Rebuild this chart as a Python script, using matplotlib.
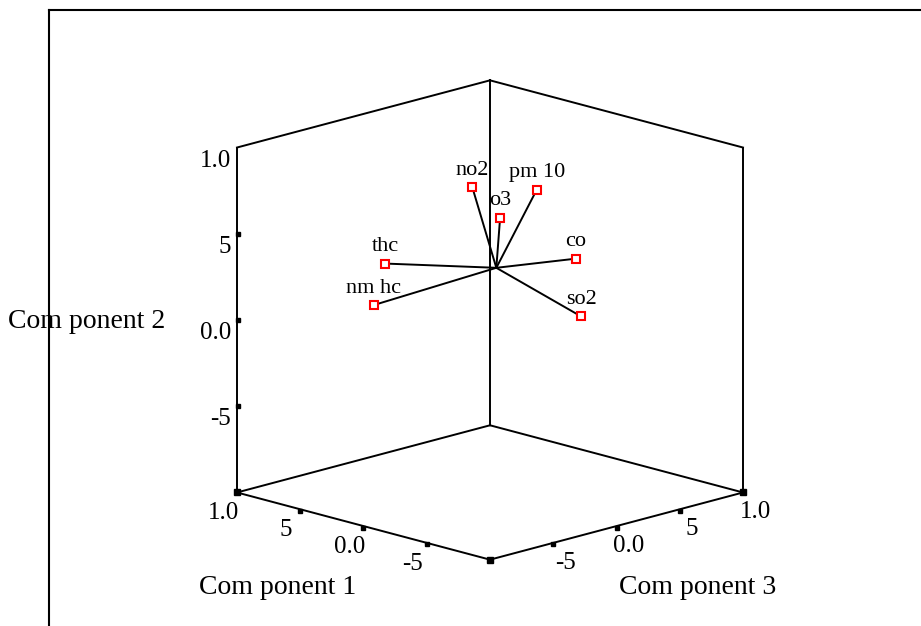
import numpy as np
import matplotlib.pyplot as plt
from matplotlib.lines import Line2D

# component loadings
variables = ["no2", "pm 10", "o3", "thc", "co", "nm hc", "so2"]
comp1 = [0.25, 0.01, 0.15, 0.87, 0.06, 0.81, -0.05]
comp2 = [0.70, 0.68, 0.52, 0.15, 0.20, -0.05, -0.10]
comp3 = [0.11, 0.38, 0.23, 0.04, 0.74, -0.11, 0.67]
spike_center = [0.11, 0.25, 0.16]

tick_values = [-1.0, -0.5, 0.0, 0.5, 1.0]
tick_text = ["", "-5", "0.0", "5", "1.0"]
comp3_text = ["", "-5", "0.0", "5", "1.0"]

axis_titles = ["Com ponent 1", "Com ponent 2", "Com ponent 3"]

AZIM = 45.0
ELEV = 15.4
SCALE = 178.9          # pixels per unit
ORIGIN = (490, 320)    # pixel position of (0, 0, 0)
W, H = 921, 626

plt.rcParams['font.family'] = ['Liberation Serif', 'DejaVu Serif']


def project(c1, c2, c3):
    # orthographic view, Component 2 vertical, Component 1 to the left
    a = np.radians(AZIM)
    e = np.radians(ELEV)
    c1, c2, c3 = np.asarray(c1, float), np.asarray(c2, float), np.asarray(c3, float)
    x = c3 * np.cos(a) - c1 * np.sin(a)
    depth = c3 * np.sin(a) + c1 * np.cos(a)
    y = c2 * np.cos(e) + depth * np.sin(e)
    return x, y


fig = plt.figure(figsize=(W / 100, H / 100), dpi=100)
ax = fig.add_axes([0, 0, 1, 1])
ax.set_xlim(-ORIGIN[0] / SCALE, (W - ORIGIN[0]) / SCALE)
ax.set_ylim(-(H - ORIGIN[1]) / SCALE, ORIGIN[1] / SCALE)
ax.axis('off')

# outer frame (left and top only, runs off the picture)
fx = 49 / W
fy = 1 - 10 / H
fig.add_artist(Line2D([fx, fx], [0, fy], color='black', lw=1.5, transform=fig.transFigure))
fig.add_artist(Line2D([fx, 1], [fy, fy], color='black', lw=1.5, transform=fig.transFigure))

lo, hi = tick_values[0], tick_values[-1]
# visible box edges, given as (c1, c2, c3) pairs
edges = [
    ((hi, lo, hi), (hi, hi, hi)),   # back vertical
    ((hi, lo, lo), (hi, hi, lo)),   # left vertical (Component 2 axis)
    ((lo, lo, hi), (lo, hi, hi)),   # right vertical
    ((hi, hi, lo), (hi, hi, hi)),   # top left
    ((lo, hi, hi), (hi, hi, hi)),   # top right
    ((hi, lo, lo), (hi, lo, hi)),   # floor back left
    ((lo, lo, hi), (hi, lo, hi)),   # floor back right
    ((hi, lo, lo), (lo, lo, lo)),   # Component 1 axis
    ((lo, lo, lo), (lo, lo, hi)),   # Component 3 axis
]
for p, q in edges:
    x, y = project(*zip(p, q))
    ax.plot(x, y, color='black', lw=1.4, solid_capstyle='projecting', zorder=2)

# corner squares
cx, cy = project([hi, lo, lo], [lo, lo, lo], [lo, lo, hi])
ax.plot(cx, cy, 's', color='black', ms=3.8, zorder=3)

tv = np.array(tick_values)
ones = np.ones_like(tv)
fs_tick = 18

# Component 2 ticks on the left vertical edge
x2, y2 = project(hi * ones, tv, lo * ones)
ax.plot(x2[1:-1] + 1.5 / SCALE, y2[1:-1], 's', color='black', ms=2.2, zorder=3)
for x, y, t in zip(x2, y2, tick_text):
    ax.annotate(t, (x, y), xytext=(-6, -13), textcoords='offset pixels',
                ha='right', va='center', fontsize=fs_tick)

# Component 1 ticks along the front-left floor edge
x1, y1 = project(tv, lo * ones, lo * ones)
ax.plot(x1[1:-1], y1[1:-1] - 1.5 / SCALE, 's', color='black', ms=2.8, zorder=3)
for x, y, t in zip(x1, y1, tick_text):
    ax.annotate(t, (x, y), xytext=(-14, -21), textcoords='offset pixels',
                ha='center', va='center', fontsize=fs_tick)

# Component 3 ticks along the front-right floor edge
x3, y3 = project(lo * ones, lo * ones, tv)
ax.plot(x3[1:-1], y3[1:-1] - 1.5 / SCALE, 's', color='black', ms=2.8, zorder=3)
for x, y, t in zip(x3, y3, comp3_text):
    ax.annotate(t, (x, y), xytext=(12, -20), textcoords='offset pixels',
                ha='center', va='center', fontsize=fs_tick)

# axis titles
fs_title = 20
fig.text(277.5 / W, 1 - 588 / H, axis_titles[0], ha='center', va='center', fontsize=fs_title)
fig.text(165 / W, 1 - 322 / H, axis_titles[1], ha='right', va='center', fontsize=fs_title)
fig.text(698 / W, 1 - 588 / H, axis_titles[2], ha='center', va='center', fontsize=fs_title)

# spikes and loading points
px, py = project(comp1, comp2, comp3)
sx, sy = project(*spike_center)
for x, y in zip(px, py):
    ax.plot([float(sx), x], [float(sy), y], color='black', lw=1.4, zorder=4)
ax.plot(px, py, 's', mfc='white', mec='red', ms=5.5, mew=1.5, zorder=5)
for x, y, name in zip(px, py, variables):
    ax.annotate(name, (x, y), xytext=(0, 17), textcoords='offset pixels',
                ha='center', va='center', fontsize=16)

fig.savefig("out.png", dpi=100)
